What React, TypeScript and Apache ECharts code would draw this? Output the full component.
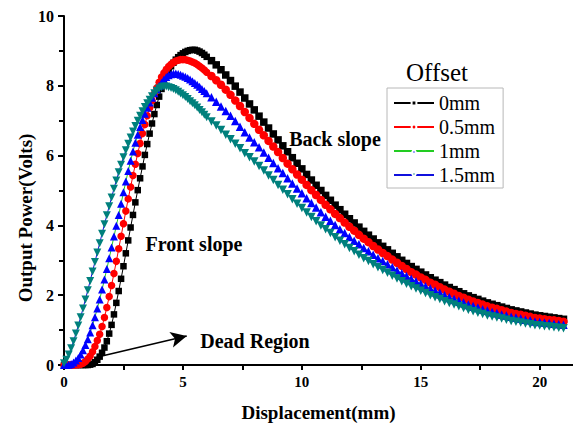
import React, { useEffect, useRef } from 'react';
import * as echarts from 'echarts';

// Displacement (mm)
const displacement = [
  0, 0.1, 0.2, 0.3, 0.4, 0.5, 0.6, 0.7, 0.8, 0.9, 1.0,
  1.1, 1.2, 1.3, 1.4, 1.5, 1.6, 1.7, 1.8, 1.9, 2.0,
  2.1, 2.2, 2.3, 2.4, 2.5, 2.6, 2.7, 2.8, 2.9, 3.0,
  3.1, 3.2, 3.3, 3.4, 3.5, 3.6, 3.7, 3.8, 3.9, 4.0,
  4.1, 4.2, 4.3, 4.4, 4.5, 4.6, 4.7, 4.8, 4.9, 5.0,
  5.1, 5.2, 5.3, 5.4, 5.5, 5.6, 5.7, 5.8, 5.9, 6.0,
  6.2, 6.4, 6.6, 6.8, 7.0, 7.2, 7.4, 7.6, 7.8, 8.0,
  8.2, 8.4, 8.6, 8.8, 9.0, 9.2, 9.4, 9.6, 9.8, 10.0,
  10.2, 10.4, 10.6, 10.8, 11.0, 11.2, 11.4, 11.6, 11.8, 12.0,
  12.2, 12.4, 12.6, 12.8, 13.0, 13.2, 13.4, 13.6, 13.8, 14.0,
  14.2, 14.4, 14.6, 14.8, 15.0, 15.2, 15.4, 15.6, 15.8, 16.0,
  16.2, 16.4, 16.6, 16.8, 17.0, 17.2, 17.4, 17.6, 17.8, 18.0,
  18.2, 18.4, 18.6, 18.8, 19.0, 19.2, 19.4, 19.6, 19.8, 20.0,
  20.2, 20.4, 20.6, 20.8, 21.0,
];

// Output power (Volts) for each offset
const offset0mm = [
  0, 0, 0, 0, 0, 0, 0, 0, 0, 0, 0,
  0.01, 0.03, 0.08, 0.15, 0.24, 0.35, 0.5, 0.68, 0.9, 1.15,
  1.45, 1.78, 2.12, 2.47, 2.83, 3.2, 3.57, 3.94, 4.3, 4.66,
  5.01, 5.35, 5.69, 6.02, 6.33, 6.63, 6.92, 7.19, 7.45, 7.69,
  7.91, 8.11, 8.29, 8.44, 8.56, 8.66, 8.75, 8.82, 8.88, 8.93,
  8.97, 9.0, 9.02, 9.03, 9.03, 9.01, 8.98, 8.94, 8.89, 8.83,
  8.72, 8.6, 8.46, 8.31, 8.15, 7.99, 7.82, 7.65, 7.48, 7.31,
  7.13, 6.96, 6.79, 6.62, 6.45, 6.28, 6.11, 5.94, 5.78, 5.62,
  5.46, 5.3, 5.15, 5.0, 4.86, 4.72, 4.58, 4.45, 4.32, 4.19,
  4.07, 3.95, 3.83, 3.72, 3.61, 3.5, 3.4, 3.3, 3.2, 3.1,
  3.0, 2.91, 2.82, 2.74, 2.66, 2.58, 2.5, 2.43, 2.36, 2.29,
  2.22, 2.16, 2.1, 2.04, 1.98, 1.93, 1.88, 1.83, 1.78, 1.74,
  1.7, 1.66, 1.62, 1.58, 1.55, 1.52, 1.49, 1.46, 1.43, 1.41,
  1.39, 1.37, 1.35, 1.33, 1.31,
];

const offset05mm = [
  0, 0, 0, 0, 0, 0.005, 0.01, 0.02, 0.05, 0.1, 0.17,
  0.26, 0.38, 0.53, 0.7, 0.88, 1.1, 1.36, 1.65, 1.96, 2.28,
  2.62, 2.97, 3.33, 3.69, 4.05, 4.41, 4.76, 5.1, 5.43, 5.75,
  6.06, 6.35, 6.63, 6.89, 7.14, 7.37, 7.58, 7.77, 7.94, 8.1,
  8.25, 8.37, 8.47, 8.55, 8.62, 8.67, 8.71, 8.73, 8.75, 8.75,
  8.75, 8.73, 8.71, 8.68, 8.65, 8.61, 8.56, 8.51, 8.45, 8.39,
  8.28, 8.16, 8.03, 7.89, 7.74, 7.58, 7.42, 7.25, 7.08, 6.91,
  6.74, 6.58, 6.42, 6.26, 6.1, 5.93, 5.77, 5.61, 5.46, 5.31,
  5.16, 5.01, 4.87, 4.73, 4.59, 4.46, 4.33, 4.21, 4.08, 3.96,
  3.85, 3.73, 3.62, 3.52, 3.41, 3.31, 3.21, 3.12, 3.02, 2.93,
  2.84, 2.75, 2.66, 2.59, 2.51, 2.44, 2.36, 2.3, 2.23, 2.16,
  2.1, 2.04, 1.98, 1.93, 1.87, 1.82, 1.78, 1.73, 1.68, 1.64,
  1.61, 1.57, 1.53, 1.49, 1.46, 1.44, 1.41, 1.38, 1.35, 1.33,
  1.31, 1.29, 1.28, 1.26, 1.24,
];

const offset1mm = [
  0, 0, 0.01, 0.03, 0.07, 0.13, 0.2, 0.3, 0.42, 0.57, 0.74,
  0.93, 1.14, 1.37, 1.62, 1.88, 2.16, 2.45, 2.75, 3.06, 3.37,
  3.68, 3.99, 4.3, 4.62, 4.95, 5.26, 5.56, 5.85, 6.12, 6.37,
  6.6, 6.82, 7.02, 7.2, 7.37, 7.52, 7.66, 7.79, 7.9, 8.0,
  8.09, 8.18, 8.25, 8.3, 8.33, 8.35, 8.35, 8.34, 8.32, 8.29,
  8.26, 8.22, 8.18, 8.13, 8.08, 8.03, 7.97, 7.91, 7.85, 7.79,
  7.67, 7.54, 7.41, 7.28, 7.14, 6.99, 6.83, 6.67, 6.52, 6.38,
  6.24, 6.09, 5.94, 5.79, 5.64, 5.5, 5.35, 5.2, 5.06, 4.92,
  4.78, 4.64, 4.51, 4.38, 4.25, 4.13, 4.01, 3.89, 3.78, 3.67,
  3.56, 3.46, 3.35, 3.26, 3.16, 3.06, 2.98, 2.89, 2.8, 2.71,
  2.63, 2.55, 2.47, 2.4, 2.33, 2.26, 2.19, 2.13, 2.07, 2.0,
  1.94, 1.89, 1.84, 1.79, 1.73, 1.69, 1.65, 1.6, 1.56, 1.52,
  1.49, 1.45, 1.42, 1.38, 1.36, 1.33, 1.3, 1.28, 1.25, 1.23,
  1.22, 1.2, 1.18, 1.17, 1.15,
];

const offset15mm = [
  0.05, 0.15, 0.3, 0.48, 0.68, 0.9, 1.13, 1.37, 1.62, 1.88, 2.14,
  2.41, 2.68, 2.95, 3.22, 3.49, 3.76, 4.03, 4.29, 4.55, 4.8,
  5.05, 5.29, 5.52, 5.74, 5.95, 6.15, 6.34, 6.52, 6.69, 6.85,
  7.0, 7.14, 7.27, 7.39, 7.5, 7.6, 7.7, 7.79, 7.86, 7.92,
  7.96, 7.98, 7.98, 7.96, 7.94, 7.91, 7.87, 7.83, 7.78, 7.73,
  7.68, 7.62, 7.56, 7.5, 7.44, 7.38, 7.31, 7.24, 7.17, 7.1,
  6.98, 6.86, 6.73, 6.6, 6.47, 6.34, 6.21, 6.07, 5.95, 5.83,
  5.7, 5.57, 5.43, 5.3, 5.16, 5.02, 4.89, 4.75, 4.62, 4.5,
  4.37, 4.24, 4.12, 4.0, 3.89, 3.78, 3.66, 3.56, 3.46, 3.35,
  3.26, 3.16, 3.06, 2.98, 2.89, 2.8, 2.72, 2.64, 2.56, 2.48,
  2.4, 2.33, 2.26, 2.19, 2.13, 2.06, 2.0, 1.94, 1.89, 1.83,
  1.78, 1.73, 1.68, 1.63, 1.58, 1.54, 1.5, 1.46, 1.42, 1.39,
  1.36, 1.33, 1.3, 1.26, 1.24, 1.22, 1.19, 1.17, 1.14, 1.13,
  1.11, 1.1, 1.08, 1.07, 1.05,
];

const seriesNames = ['0mm', '0.5mm', '1mm', '1.5mm'];
const xTickValues = [0, 2.5, 5, 7.5, 10, 12.5, 15, 17.5, 20];
const xLabelValues = [0, 5, 10, 15, 20];
// Dead-region arrow, start and end in data coordinates
const arrowStart = [1.37, 0.22];
const arrowEnd = [5.16, 0.83];

const SERIF = '"Liberation Serif", "Times New Roman", serif';

export default function App() {
  const ref = useRef<HTMLDivElement>(null);

  useEffect(() => {
    if (!ref.current) return;
    const chart = echarts.init(ref.current, null, { renderer: 'svg' });

    const zip = (ys: number[]) => displacement.map((x, i) => [x, ys[i]]);

    const styles = [
      { data: offset0mm, symbol: 'rect', size: 6.5, tail: 7.5, rotate: 0, marker: '#000000', line: '#000000' },
      { data: offset05mm, symbol: 'circle', size: 7.5, tail: 8.5, rotate: 0, marker: '#ff0000', line: '#ff0000' },
      { data: offset1mm, symbol: 'triangle', size: 8, tail: 8.5, rotate: 0, marker: '#0000ff', line: '#22cc22' },
      { data: offset15mm, symbol: 'triangle', size: 8, tail: 8.5, rotate: 180, marker: '#00807c', line: '#1010dd' },
    ];

    const series: any[] = styles.map((s, i) => ({
      name: seriesNames[i],
      type: 'line',
      data: zip(s.data),
      symbol: s.symbol,
      symbolSize: (v: number[]) => (v[0] > 6 ? s.tail : s.size),
      symbolRotate: s.rotate,
      showAllSymbol: true,
      itemStyle: { color: s.marker },
      lineStyle: { color: s.line, width: 1 },
      z: 2 + i,
    }));

    series[0].markLine = {
      silent: true,
      symbol: ['none', 'arrow'],
      symbolSize: [12, 16],
      label: { show: false },
      lineStyle: { color: '#000', width: 1.6, type: 'solid' },
      data: [[{ coord: arrowStart }, { coord: arrowEnd }]],
      z: 10,
    };

    const axisText = { color: '#000', fontFamily: SERIF, fontWeight: 'bold' as const, fontSize: 15 };

    chart.setOption({
      animation: false,
      backgroundColor: '#ffffff',
      grid: { left: 64, right: 0, top: 16, bottom: 56 },
      xAxis: {
        type: 'value',
        min: 0,
        max: 21.4,
        name: 'Displacement(mm)',
        nameLocation: 'middle',
        nameGap: 38,
        nameTextStyle: { color: '#000', fontFamily: SERIF, fontWeight: 'bold', fontSize: 19 },
        axisLine: { show: true, onZero: false, lineStyle: { color: '#000', width: 2 } },
        axisTick: { show: true, customValues: xTickValues, length: 5, lineStyle: { color: '#000', width: 2 } },
        axisLabel: {
          ...axisText,
          customValues: xLabelValues,
          formatter: (v: number) => String(v),
          margin: 9,
        },
        splitLine: { show: false },
      },
      yAxis: {
        type: 'value',
        min: 0,
        max: 10,
        interval: 2,
        axisLine: { show: true, lineStyle: { color: '#000', width: 2 } },
        axisTick: { show: true, length: 6, lineStyle: { color: '#000', width: 2 } },
        minorTick: { show: true, splitNumber: 2, length: 5, lineStyle: { color: '#000', width: 2 } },
        axisLabel: { ...axisText, fontSize: 16, margin: 10 },
        splitLine: { show: false },
      },
      legend: {
        left: 387,
        top: 88,
        orient: 'vertical',
        itemWidth: 40,
        itemHeight: 6,
        itemGap: 4,
        padding: [5, 8, 3, 6],
        borderColor: '#b8b8b8',
        borderWidth: 1,
        backgroundColor: '#ffffff',
        itemStyle: { borderColor: '#ffffff', borderWidth: 2 },
        lineStyle: { width: 2 },
        textStyle: { color: '#000', fontFamily: SERIF, fontSize: 20 },
        data: seriesNames,
      },
      graphic: [
        {
          type: 'text',
          x: 25,
          y: 218,
          rotation: Math.PI / 2,
          style: {
            text: 'Output Power(Volts)',
            fill: '#000',
            font: `bold 19px ${SERIF}`,
            textAlign: 'center',
            textVerticalAlign: 'middle',
          },
        },
        {
          type: 'text',
          x: 437,
          y: 72,
          style: { text: 'Offset', fill: '#000', font: `25px ${SERIF}`, textAlign: 'center', textVerticalAlign: 'middle' },
        },
        {
          type: 'text',
          x: 335,
          y: 139,
          style: { text: 'Back slope', fill: '#000', font: `bold 20px ${SERIF}`, textAlign: 'center', textVerticalAlign: 'middle' },
        },
        {
          type: 'text',
          x: 194,
          y: 244,
          style: { text: 'Front slope', fill: '#000', font: `bold 20px ${SERIF}`, textAlign: 'center', textVerticalAlign: 'middle' },
        },
        {
          type: 'text',
          x: 255,
          y: 341,
          style: { text: 'Dead Region', fill: '#000', font: `bold 20px ${SERIF}`, textAlign: 'center', textVerticalAlign: 'middle' },
        },
      ],
      series,
    });

    return () => chart.dispose();
  }, []);

  return <div ref={ref} style={{ position: 'fixed', left: 0, top: 0, width: 573, height: 427 }} />;
}
